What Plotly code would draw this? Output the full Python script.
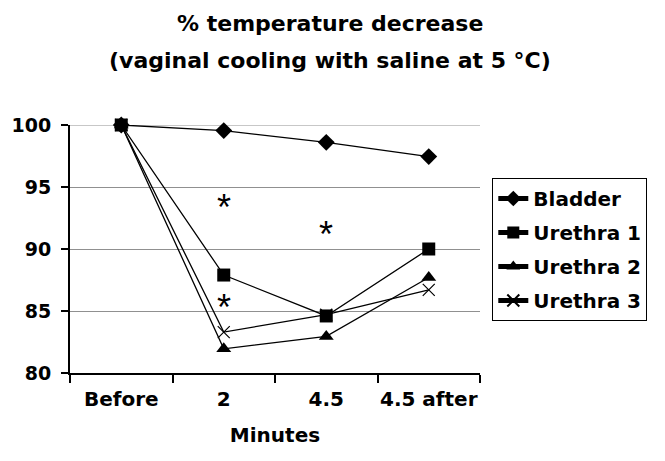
import plotly.graph_objects as go

categories = ["Before", "2", "4.5", "4.5 after"]
bladder = [100, 99.55, 98.6, 97.45]
urethra1 = [100, 87.9, 84.6, 90.0]
urethra2 = [100, 81.95, 82.95, 87.7]
urethra3 = [100, 83.3, 84.7, 86.7]

star_x = ["2", "4.5", "2"]
star_y = [94.0, 91.8, 85.9]

y_ticks = [80, 85, 90, 95, 100]

title_lines = ["% temperature decrease", "(vaginal cooling with saline at 5 °C)"]

font = "DejaVu Sans, Arial, sans-serif"

series = [
    ("Bladder", bladder, dict(symbol="diamond", size=13, color="black")),
    ("Urethra 1", urethra1, dict(symbol="square", size=13, color="black")),
    ("Urethra 2", urethra2, dict(symbol="triangle-up", size=13, color="black")),
    ("Urethra 3", urethra3, dict(symbol="x-thin-open", size=12, color="black",
                                 line=dict(color="black", width=1.2))),
]

fig = go.Figure()
for name, vals, mk in series:
    fig.add_trace(go.Scatter(x=categories, y=vals, mode="lines+markers", name=name,
                             legendgroup=name,
                             line=dict(color="black", width=1.3), marker=mk,
                             cliponaxis=False))

# gridline at the top edge
fig.add_hline(y=y_ticks[-1], line=dict(color="#909090", width=1), layer="below")

for sx, sy in zip(star_x, star_y):
    fig.add_annotation(x=categories.index(sx), y=sy, text="*", showarrow=False,
                       font=dict(family="Liberation Sans, Arial", size=36, color="black"),
                       yshift=-8)

for i, (txt, py) in enumerate(zip(title_lines, [1.408, 1.262])):
    fig.add_annotation(xref="paper", yref="paper", x=0.635, y=py, text=txt,
                       showarrow=False, xanchor="center", yanchor="middle",
                       font=dict(family=font, size=22, color="black", weight="bold"))

fig.update_layout(
    width=657, height=453,
    paper_bgcolor="white", plot_bgcolor="white",
    margin=dict(l=62, r=185, t=117, b=88),
    font=dict(family=font, color="black"),
    showlegend=True,
    legend=dict(x=1.03, y=0.786, xanchor="left", yanchor="top",
                bordercolor="black", borderwidth=1, bgcolor="white",
                font=dict(family=font, size=20, color="black", weight="bold"),
                tracegroupgap=5, itemsizing="constant"),
)
fig.update_xaxes(type="category", tickson="boundaries", ticks="outside", ticklen=8,
                 tickwidth=2, tickcolor="black", showline=True, linecolor="black",
                 linewidth=2, showgrid=False, range=[-0.5, 3.5], tickangle=0,
                 automargin=False, ticklabelstandoff=7,
                 tickfont=dict(family=font, size=20, color="black", weight="bold"),
                 title=dict(text="Minutes",
                            font=dict(family=font, size=20, color="black", weight="bold"),
                            standoff=18))
fig.update_yaxes(range=[80, 100], tickvals=y_ticks, ticks="outside", ticklen=7,
                 tickwidth=2, tickcolor="black", showline=True, linecolor="black",
                 linewidth=2, showgrid=True, gridcolor="#909090", gridwidth=1,
                 zeroline=False, automargin=False, ticklabelstandoff=6,
                 tickfont=dict(family=font, size=19, color="black", weight="bold"))

fig.write_html("out.html")
